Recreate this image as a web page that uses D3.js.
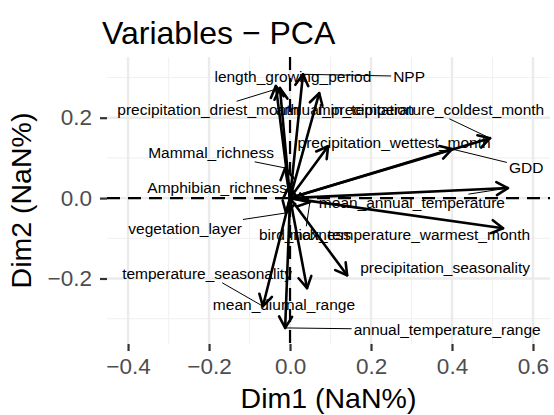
<!DOCTYPE html>
<html><head><meta charset="utf-8">
<script src="https://cdn.jsdelivr.net/npm/d3@7"></script>
<style>body{margin:0;background:#fff} svg{display:block;font-family:"Liberation Sans",Arial,Helvetica,sans-serif}</style>
</head><body><svg id="c" width="554" height="415"></svg>
<script>
// ---- data ----
const variables = ["length_growing_period","NPP","precipitation_driest_month","annual_precipitation",
  "min_temperature_coldest_month","Mammal_richness","precipitation_wettest_month","GDD",
  "Amphibian_richness","mean_annual_temperature","vegetation_layer","bird_richness",
  "max_temperature_warmest_month","precipitation_seasonality","temperature_seasonality",
  "mean_diurnal_range","annual_temperature_range"];
const dim1 = [-0.035, 0.032, -0.025, 0.072, 0.494, -0.012, 0.094, 0.400, -0.002, 0.538, -0.010, 0.049, 0.526, 0.141, -0.067, 0.042, -0.012];
const dim2 = [0.279, 0.308, 0.274, 0.261, 0.149, 0.075, 0.129, 0.122, 0.030, 0.025, -0.037, -0.010, -0.075, -0.192, -0.269, -0.224, -0.323];
// repelled label positions (data units)
const labelDim1 = [0.007, 0.294, -0.202, 0.136, 0.348, -0.195, 0.257, 0.583, -0.180, 0.301, -0.259, 0.037, 0.296, 0.383, -0.205, -0.015, 0.388];
const labelDim2 = [0.303, 0.303, 0.219, 0.219, 0.219, 0.112, 0.137, 0.077, 0.027, -0.012, -0.075, -0.092, -0.090, -0.172, -0.189, -0.266, -0.328];
const xTicks = [-0.4, -0.2, 0, 0.2, 0.4, 0.6];
const yTicks = [-0.2, 0, 0.2];
const xMinor = [-0.3, -0.1, 0.1, 0.3, 0.5];
const yMinor = [-0.3, -0.1, 0.1, 0.3];
const titleText = "Variables \u2212 PCA";
const xTitle = "Dim1 (NaN%)";
const yTitle = "Dim2 (NaN%)";

// ---- layout ----
const svg = d3.select("#c");
const P = {left:107, right:550, top:57, bottom:344};
const x = d3.scaleLinear().domain([-0.452, 0.642]).range([P.left, P.right]);
const y = d3.scaleLinear().domain([-0.363, 0.351]).range([P.bottom, P.top]);
const fmt = d3.format(".1f");

// grid
const g = svg.append("g");
g.selectAll(".vmin").data(xMinor).join("line").attr("x1",d=>x(d)).attr("x2",d=>x(d))
  .attr("y1",P.top).attr("y2",P.bottom).attr("stroke","#F2F2F2").attr("stroke-width",1.2);
g.selectAll(".hmin").data(yMinor).join("line").attr("y1",d=>y(d)).attr("y2",d=>y(d))
  .attr("x1",P.left).attr("x2",P.right).attr("stroke","#F2F2F2").attr("stroke-width",1.2);
g.selectAll(".vmaj").data(xTicks).join("line").attr("x1",d=>x(d)).attr("x2",d=>x(d))
  .attr("y1",P.top).attr("y2",P.bottom).attr("stroke","#EBEBEB").attr("stroke-width",2.4);
g.selectAll(".hmaj").data(yTicks).join("line").attr("y1",d=>y(d)).attr("y2",d=>y(d))
  .attr("x1",P.left).attr("x2",P.right).attr("stroke","#EBEBEB").attr("stroke-width",2.4);

// dashed reference lines
svg.append("line").attr("x1",P.left).attr("x2",P.right).attr("y1",y(0)).attr("y2",y(0))
  .attr("stroke","#000").attr("stroke-width",2.2).attr("stroke-dasharray","13,8");
svg.append("line").attr("x1",x(0)).attr("x2",x(0)).attr("y1",P.top).attr("y2",P.bottom)
  .attr("stroke","#000").attr("stroke-width",2.2).attr("stroke-dasharray","13,8");

// arrows
const AL = 13, AA = Math.PI/6;
const arrows = svg.append("g").attr("fill","none").attr("stroke","#000").attr("stroke-width",2.6)
  .attr("stroke-linecap","round").attr("stroke-linejoin","round");
variables.forEach((v,i)=>{
  const x0=x(0), y0=y(0), x1=x(dim1[i]), y1=y(dim2[i]);
  const a = Math.atan2(y1-y0, x1-x0);
  const p1=[x1-AL*Math.cos(a-AA), y1-AL*Math.sin(a-AA)];
  const p2=[x1-AL*Math.cos(a+AA), y1-AL*Math.sin(a+AA)];
  arrows.append("line").attr("x1",x0).attr("y1",y0).attr("x2",x1).attr("y2",y1);
  arrows.append("path").attr("d",`M${p1[0]},${p1[1]}L${x1},${y1}L${p2[0]},${p2[1]}`);
});

// labels with repel segments
const LFS = 15.5;
const segG = svg.append("g");
const labG = svg.append("g");
variables.forEach((v,i)=>{
  const cx = x(labelDim1[i]), cy = y(labelDim2[i]);
  const t = labG.append("text").attr("x",cx).attr("y",cy).attr("dy","0.35em")
    .attr("text-anchor","middle").attr("font-size",LFS).attr("fill","#000").text(v);
  const hw = t.node().getComputedTextLength()/2 + 2, hh = LFS/2 + 1;
  const px = x(dim1[i]), py = y(dim2[i]);
  const dx = px-cx, dy = py-cy;
  const tt = Math.min(dx!==0?hw/Math.abs(dx):Infinity, dy!==0?hh/Math.abs(dy):Infinity);
  if (tt < 1) {
    const sx = cx+tt*dx, sy = cy+tt*dy;
    const len = Math.hypot(px-sx, py-sy);
    if (len > 16) {
      segG.append("line").attr("x1",sx).attr("y1",sy).attr("x2",px).attr("y2",py)
        .attr("stroke","#000").attr("stroke-width",1);
    }
  }
});

// axes
const xa = svg.append("g").attr("transform",`translate(0,${P.bottom})`)
  .call(d3.axisBottom(x).tickValues(xTicks).tickFormat(fmt).tickSize(7).tickPadding(7));
const ya = svg.append("g").attr("transform",`translate(${P.left},0)`)
  .call(d3.axisLeft(y).tickValues(yTicks).tickFormat(fmt).tickSize(7).tickPadding(8));
[xa,ya].forEach(a=>{
  a.select(".domain").remove();
  a.selectAll(".tick line").attr("stroke","#333").attr("stroke-width",2.2);
  a.selectAll(".tick text").attr("fill","#4D4D4D").attr("font-size",22.5)
    .attr("font-family","'Liberation Sans',Arial,Helvetica,sans-serif");
});

// titles
svg.append("text").attr("x",102).attr("y",44).attr("font-size",32).attr("fill","#000").text(titleText);
svg.append("text").attr("x",(P.left+P.right)/2).attr("y",408).attr("text-anchor","middle")
  .attr("font-size",28.5).attr("fill","#000").text(xTitle);
svg.append("text").attr("transform",`translate(31,${(P.top+P.bottom)/2}) rotate(-90)`)
  .attr("text-anchor","middle").attr("font-size",28.5).attr("fill","#000").text(yTitle);
</script></body></html>
